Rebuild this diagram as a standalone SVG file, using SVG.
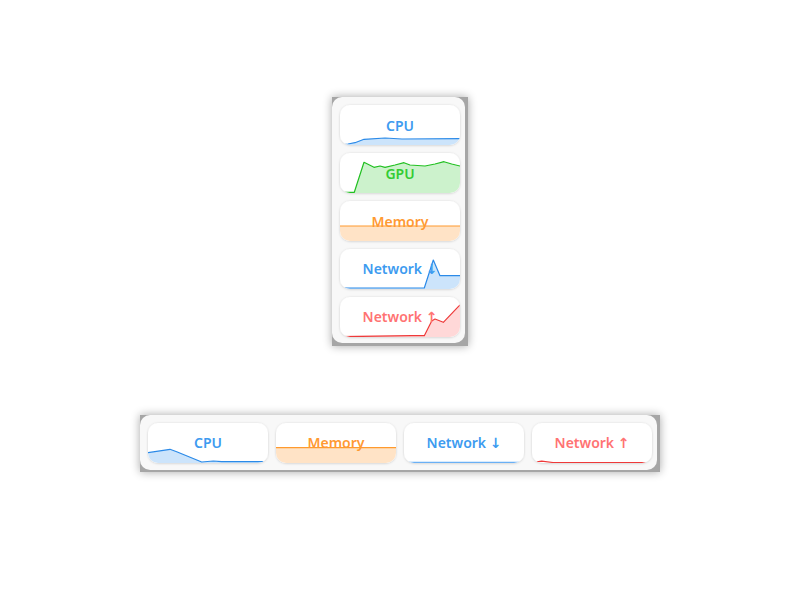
<svg xmlns="http://www.w3.org/2000/svg" width="800" height="600" viewBox="0 0 800 600">
<defs>
<style>
.lbl{font-family:"Noto Sans","Open Sans","DejaVu Sans",sans-serif;font-size:14px;font-weight:600;text-anchor:middle}
.card{fill:#ffffff}
.panelbase{fill:#a6a6a6}
.panel{fill:#f8f8f8}
.ln{fill:none;stroke-width:1.2;stroke-linejoin:round}
</style>
<filter id="pshadow" x="-20%" y="-20%" width="140%" height="140%">
<feGaussianBlur in="SourceAlpha" stdDeviation="5"/>
<feComponentTransfer><feFuncA type="linear" slope="0.35"/></feComponentTransfer>
<feMerge><feMergeNode/><feMergeNode in="SourceGraphic"/></feMerge>
</filter>
<filter id="cshadow" x="-10%" y="-20%" width="120%" height="140%">
<feDropShadow dx="0" dy="0.5" stdDeviation="1" flood-color="#000" flood-opacity="0.18"/>
</filter>
<clipPath id="cv1"><rect x="340" y="105" width="120" height="40" rx="10"/></clipPath>
<clipPath id="cv2"><rect x="340" y="153" width="120" height="40" rx="10"/></clipPath>
<clipPath id="cv3"><rect x="340" y="201" width="120" height="40" rx="10"/></clipPath>
<clipPath id="cv4"><rect x="340" y="249" width="120" height="40" rx="10"/></clipPath>
<clipPath id="cv5"><rect x="340" y="297" width="120" height="40" rx="10"/></clipPath>
<clipPath id="ch1"><rect x="148" y="423" width="120" height="40" rx="10"/></clipPath>
<clipPath id="ch2"><rect x="276" y="423" width="120" height="40" rx="10"/></clipPath>
<clipPath id="ch3"><rect x="404" y="423" width="120" height="40" rx="10"/></clipPath>
<clipPath id="ch4"><rect x="532" y="423" width="120" height="40" rx="10"/></clipPath>
</defs>
<rect width="800" height="600" fill="#ffffff"/>

<g id="panel-vertical">
<rect class="panelbase" x="332" y="97" width="136" height="249" filter="url(#pshadow)"/>
<rect class="panel" x="332" y="97" width="133" height="246" rx="10"/>
</g>

<g id="panel-horizontal">
<rect class="panelbase" x="140" y="415" width="520" height="57" filter="url(#pshadow)"/>
<rect class="panel" x="140" y="415" width="517" height="55" rx="10"/>
</g>

<g id="v-cpu">
<rect class="card" x="340" y="105" width="120" height="40" rx="10" filter="url(#cshadow)"/>
<g clip-path="url(#cv1)">
<path d="M340,145 L348,144 L355,142.7 L364,139.3 L385,138 L402,139 L460,138.7 L460,145 Z" fill="#cce4fb"/>
<path class="ln" d="M340,145 L348,144 L355,142.7 L364,139.3 L385,138 L402,139 L460,138.7" stroke="#2b8ae8"/>
</g>
<text class="lbl" x="400" y="131" fill="#3d9bf0">CPU</text>
</g>

<g id="v-gpu">
<rect class="card" x="340" y="153" width="120" height="40" rx="10" filter="url(#cshadow)"/>
<g clip-path="url(#cv2)">
<path d="M340,192.3 L354.3,192.3 L364,162.3 L374,167.3 L380,166 L385,167.3 L395,165 L404,162.7 L410,165 L425,166 L435,164 L444,161.7 L451.7,164 L460,166 L460,193 L340,193 Z" fill="#ccf2cc"/>
<path class="ln" d="M340,192.3 L354.3,192.3 L364,162.3 L374,167.3 L380,166 L385,167.3 L395,165 L404,162.7 L410,165 L425,166 L435,164 L444,161.7 L451.7,164 L460,166" stroke="#22c022"/>
</g>
<text class="lbl" x="400" y="179" fill="#33cc33">GPU</text>
</g>

<g id="v-memory">
<rect class="card" x="340" y="201" width="120" height="40" rx="10" filter="url(#cshadow)"/>
<g clip-path="url(#cv3)">
<rect x="340" y="226" width="120" height="15" fill="#ffe3c6"/>
<path class="ln" d="M340,226 L460,226" stroke="#ff9a2e"/>
</g>
<text class="lbl" x="400" y="227" fill="#ff9a33">Memory</text>
</g>

<g id="v-net-down">
<rect class="card" x="340" y="249" width="120" height="40" rx="10" filter="url(#cshadow)"/>
<g clip-path="url(#cv4)">
<path d="M340,288 L424.3,288 L433.3,260 L440,275.7 L460,275.7 L460,289 L340,289 Z" fill="#cce4fb"/>
<path class="ln" d="M340,288 L424.3,288 L433.3,260 L440,275.7 L460,275.7" stroke="#2b8ae8"/>
</g>
<text class="lbl" x="400" y="274" fill="#3d9bf0">Network ↓</text>
</g>

<g id="v-net-up">
<rect class="card" x="340" y="297" width="120" height="40" rx="10" filter="url(#cshadow)"/>
<g clip-path="url(#cv5)">
<path d="M340,336.7 L411.7,335.7 L424.3,335.7 L431.7,321 L435,319 L443.3,322.3 L458.3,306.7 L462,303 L462,337 L340,337 Z" fill="#ffd8d8"/>
<path class="ln" d="M340,336.7 L411.7,335.7 L424.3,335.7 L431.7,321 L435,319 L443.3,322.3 L458.3,306.7 L462,303" stroke="#ee3a3a"/>
</g>
<text class="lbl" x="400" y="322" fill="#ff7373">Network ↑</text>
</g>

<g id="h-cpu">
<rect class="card" x="148" y="423" width="120" height="40" rx="10" filter="url(#cshadow)"/>
<g clip-path="url(#ch1)">
<path d="M148,452.7 L170,449.3 L176.7,451.7 L201.7,462 L213.3,461 L221.7,461.7 L268,461.7 L268,463 L148,463 Z" fill="#cce4fb"/>
<path class="ln" d="M148,452.7 L170,449.3 L176.7,451.7 L201.7,462 L213.3,461 L221.7,461.7 L268,461.7" stroke="#2b8ae8"/>
</g>
<text class="lbl" x="208" y="448" fill="#3d9bf0">CPU</text>
</g>

<g id="h-memory">
<rect class="card" x="276" y="423" width="120" height="40" rx="10" filter="url(#cshadow)"/>
<g clip-path="url(#ch2)">
<rect x="276" y="447.7" width="120" height="16" fill="#ffe3c6"/>
<path class="ln" d="M276,447.7 L396,447.7" stroke="#ff9a2e"/>
</g>
<text class="lbl" x="336" y="448" fill="#ff9a33">Memory</text>
</g>

<g id="h-net-down">
<rect class="card" x="404" y="423" width="120" height="40" rx="10" filter="url(#cshadow)"/>
<g clip-path="url(#ch3)">
<path class="ln" d="M404,462.3 L524,462.3" stroke="#6ab0f5"/>
</g>
<text class="lbl" x="464" y="448" fill="#3d9bf0">Network ↓</text>
</g>

<g id="h-net-up">
<rect class="card" x="532" y="423" width="120" height="40" rx="10" filter="url(#cshadow)"/>
<g clip-path="url(#ch4)">
<path class="ln" d="M532,462.5 L541.7,461.2 L553,462.5 L652,462.5" stroke="#ee3a3a"/>
</g>
<text class="lbl" x="592" y="448" fill="#ff7373">Network ↑</text>
</g>
</svg>
